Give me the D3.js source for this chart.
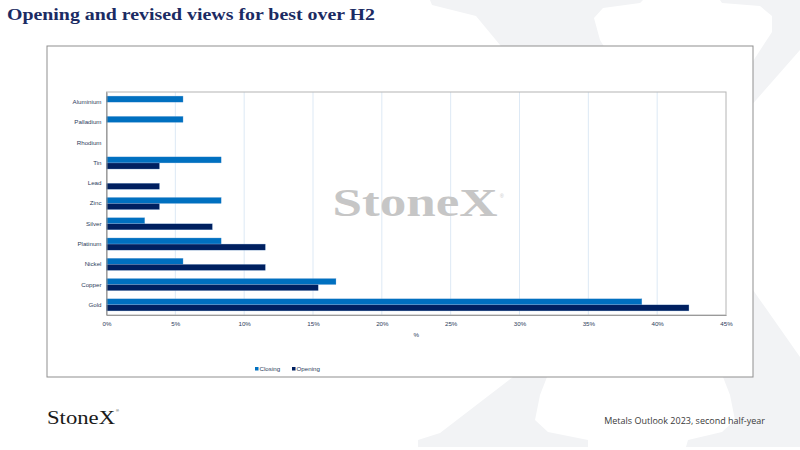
<!DOCTYPE html>
<html>
<head>
<meta charset="utf-8">
<script src="https://cdn.jsdelivr.net/npm/d3@7"></script>
<style>
  body { margin: 0; background: #fff; }
  svg { display: block; }
</style>
</head>
<body>
<svg width="800" height="450"></svg>
<script>
// categories, top to bottom as shown
var metals = ["Aluminium", "Palladium", "Rhodium", "Tin", "Lead", "Zinc", "Silver", "Platinum", "Nickel", "Copper", "Gold"];
// share of votes, %
var closing = [5.56, 5.56, 0, 8.33, 0, 8.33, 2.78, 8.33, 5.56, 16.67, 38.89];
var opening = [0, 0, 0, 3.85, 3.85, 3.85, 7.69, 11.54, 11.54, 15.38, 42.31];
var series = ["Closing", "Opening"];
var colors = ["#0070c0", "#002060"];
var xTicks = [0, 5, 10, 15, 20, 25, 30, 35, 40, 45];

var svg = d3.select("svg");

// faint big X in the background (decoration)
var bg = svg.append("g").attr("fill", "#f2f3f5");
bg.append("path").attr("d", d3.line()([
  [430, 0], [643, 0], [640, 3], [603, 8], [594, 18], [600, 40], [753, 290], [800, 357], [800, 447],
  [686, 447], [688, 440], [722, 432], [735, 420], [730, 395], [723, 377], [500, 45], [476, 16], [432, 5]
]) + "Z");
bg.append("path").attr("d", d3.line()([
  [720, 0], [800, 0], [800, 50], [513, 377], [440, 433], [418, 440], [418, 447], [588, 447],
  [588, 440], [548, 432], [535, 420], [540, 395], [547, 377], [772, 32], [772, 16], [760, 6], [722, 3]
]) + "Z");

// title
svg.append("text")
  .attr("x", 7).attr("y", 20)
  .attr("font-family", "'Liberation Serif', serif")
  .attr("font-weight", "bold")
  .attr("font-size", 17.5)
  .attr("fill", "#1b2b63")
  .attr("textLength", 368)
  .attr("lengthAdjust", "spacingAndGlyphs")
  .text("Opening and revised views for best over H2");

// chart box
svg.append("rect")
  .attr("x", 47).attr("y", 46).attr("width", 706).attr("height", 331)
  .attr("fill", "#fff").attr("stroke", "#8f8f8f").attr("stroke-width", 1);

var margin = { left: 106.5, right: 726, top: 92, bottom: 315 };

var x = d3.scaleLinear().domain([0, 45]).range([margin.left, margin.right]);
var y = d3.scaleBand().domain(metals).range([margin.top, margin.bottom])
  .paddingInner(0.4).paddingOuter(0.2);
var ySub = d3.scaleBand().domain(series).range([0, y.bandwidth()]);

var labelFont = "'Liberation Sans Narrow', 'Liberation Sans', Arial, sans-serif";
var labelColor = "#2e3d5c";

// gridlines
svg.append("g").selectAll("line")
  .data(xTicks.slice(1, -1))
  .enter().append("line")
  .attr("x1", function (d) { return x(d); })
  .attr("x2", function (d) { return x(d); })
  .attr("y1", margin.top).attr("y2", margin.bottom)
  .attr("stroke", "#dde9f5").attr("stroke-width", 1);

// watermark
svg.append("text")
  .attr("x", 415).attr("y", 216)
  .attr("text-anchor", "middle")
  .attr("font-family", "'Liberation Serif', serif")
  .attr("font-weight", "bold")
  .attr("font-size", 40)
  .attr("fill", "#c6c6c6")
  .attr("textLength", 165)
  .attr("lengthAdjust", "spacingAndGlyphs")
  .text("StoneX");
svg.append("text")
  .attr("x", 500).attr("y", 198)
  .attr("font-family", "'Liberation Sans', sans-serif")
  .attr("font-size", 5).attr("fill", "#c6c6c6")
  .text("®");

// plot frame
svg.append("rect")
  .attr("x", margin.left).attr("y", margin.top)
  .attr("width", margin.right - margin.left).attr("height", margin.bottom - margin.top)
  .attr("fill", "none").attr("stroke", "#b4b4b4").attr("stroke-width", 1);

// bars
var rows = metals.map(function (m, i) {
  return { metal: m, values: [closing[i], opening[i]] };
});
var groups = svg.append("g").selectAll("g")
  .data(rows)
  .enter().append("g")
  .attr("transform", function (d) { return "translate(0," + y(d.metal) + ")"; });

groups.selectAll("rect")
  .data(function (d) {
    return d.values.map(function (v, j) { return { key: series[j], value: v, color: colors[j] }; });
  })
  .enter().append("rect")
  .filter(function (d) { return d.value > 0; })
  .attr("x", x(0))
  .attr("y", function (d) { return ySub(d.key); })
  .attr("width", function (d) { return x(d.value) - x(0); })
  .attr("height", ySub.bandwidth())
  .attr("fill", function (d) { return d.color; })
  .attr("stroke", "#8fb6de").attr("stroke-width", 0.3);

// y axis
var yAxis = svg.append("g")
  .attr("transform", "translate(" + margin.left + ",0)")
  .call(d3.axisLeft(y).tickSize(0).tickPadding(5));
yAxis.select(".domain").attr("stroke", "#8a8a8a");
yAxis.selectAll("text")
  .attr("font-family", labelFont).attr("font-size", 6.2).attr("fill", labelColor);

// x axis
var xAxis = svg.append("g")
  .attr("transform", "translate(0," + margin.bottom + ")")
  .call(d3.axisBottom(x).tickValues(xTicks).tickSize(0).tickPadding(7)
    .tickFormat(function (d) { return d + "%"; }));
xAxis.select(".domain").attr("stroke", "#9a9a9a");
xAxis.selectAll("text")
  .attr("font-family", labelFont).attr("font-size", 6.2).attr("fill", labelColor);

svg.append("text")
  .attr("x", (margin.left + margin.right) / 2).attr("y", 337)
  .attr("text-anchor", "middle")
  .attr("font-family", labelFont).attr("font-size", 6.2).attr("fill", labelColor)
  .text("%");

// legend
var legend = svg.append("g").selectAll("g")
  .data(series)
  .enter().append("g")
  .attr("transform", function (d, i) { return "translate(" + (255 + i * 37) + ",369)"; });
legend.append("rect")
  .attr("x", 0).attr("y", -2).attr("width", 3.5).attr("height", 3.5)
  .attr("fill", function (d, i) { return colors[i]; });
legend.append("text")
  .attr("x", 4.5).attr("y", 2)
  .attr("font-family", labelFont).attr("font-size", 6.2).attr("fill", labelColor)
  .text(function (d) { return d; });

// footer
svg.append("text")
  .attr("x", 47).attr("y", 424)
  .attr("font-family", "'Liberation Serif', serif")
  .attr("font-size", 19)
  .attr("fill", "#1a1a1a")
  .attr("textLength", 68)
  .attr("lengthAdjust", "spacingAndGlyphs")
  .text("StoneX");
svg.append("text")
  .attr("x", 116).attr("y", 412)
  .attr("font-family", "'Liberation Sans', sans-serif")
  .attr("font-size", 4).attr("fill", "#1a1a1a")
  .text("®");
svg.append("text")
  .attr("x", 765).attr("y", 424)
  .attr("text-anchor", "end")
  .attr("font-family", "'Open Sans', sans-serif")
  .attr("font-size", 9).attr("fill", "#3a3a3a")
  .text("Metals Outlook 2023, second half-year");
</script>
</body>
</html>
